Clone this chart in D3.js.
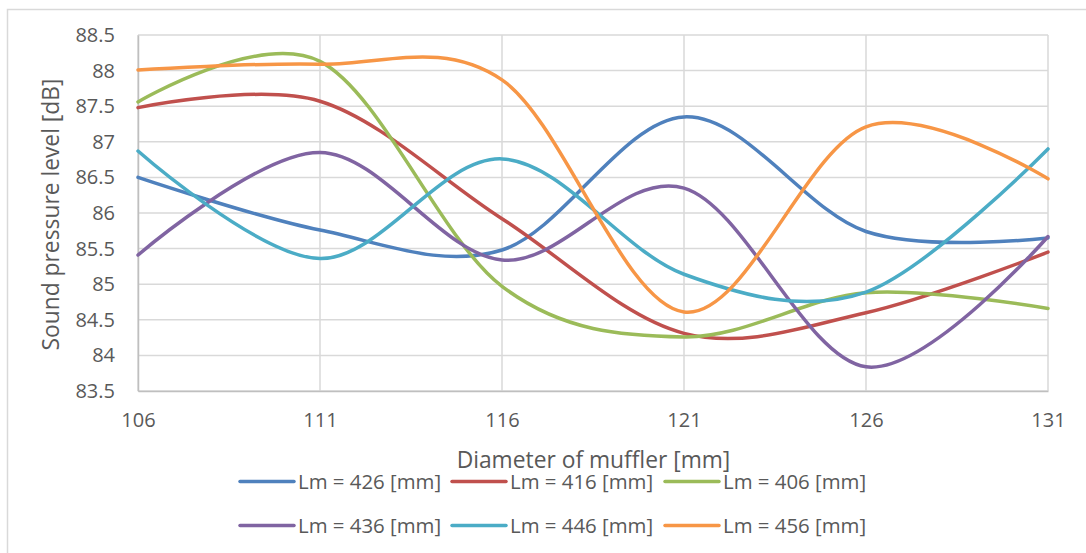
<!DOCTYPE html>
<html>
<head>
<meta charset="utf-8">
<script src="https://cdn.jsdelivr.net/npm/d3@7"></script>
<style>
  html, body { margin: 0; padding: 0; background: #fff; }
  svg { display: block; font-family: "Open Sans", "Liberation Sans", sans-serif; }
</style>
</head>
<body>
<svg id="chart" width="1086" height="553"></svg>
<script>
// Muffler diameter (mm) on the x axis
const diameters = [106, 111, 116, 121, 126, 131];

// Sound pressure level (dB) for each muffler length Lm
const lm426 = [86.50, 85.76, 85.48, 87.35, 85.74, 85.65];
const lm416 = [87.48, 87.57, 85.92, 84.31, 84.60, 85.45];
const lm406 = [87.56, 88.13, 84.97, 84.26, 84.88, 84.66];
const lm436 = [85.41, 86.85, 85.34, 86.35, 83.84, 85.67];
const lm446 = [86.87, 85.36, 86.76, 85.14, 84.89, 86.90];
const lm456 = [88.01, 88.09, 87.87, 84.61, 87.21, 86.48];

const seriesNames = ["Lm = 426 [mm]", "Lm = 416 [mm]", "Lm = 406 [mm]",
                     "Lm = 436 [mm]", "Lm = 446 [mm]", "Lm = 456 [mm]"];
const seriesValues = [lm426, lm416, lm406, lm436, lm446, lm456];
const seriesColors = ["#4F81BD", "#C0504D", "#9BBB59", "#8064A2", "#4BACC6", "#F79646"];

const yTicks = [83.5, 84, 84.5, 85, 85.5, 86, 86.5, 87, 87.5, 88, 88.5];
const xTicks = diameters;

const svg = d3.select("#chart");

// chart frame
svg.append("rect")
  .attr("x", 7.5).attr("y", 9.5)
  .attr("width", 1200).attr("height", 700)
  .attr("fill", "#fff").attr("stroke", "#d9d9d9").attr("stroke-width", 1.5);

const plot = { left: 138, right: 1048, top: 35, bottom: 391 };

const x = d3.scaleLinear().domain([106, 131]).range([plot.left, plot.right]);
const y = d3.scaleLinear().domain([83.5, 88.5]).range([plot.bottom, plot.top]);

const textColor = "#595959";
const tickFont = 20;
const titleFont = 22.8;
const legendFont = 20.4;

// horizontal gridlines
svg.append("g")
  .selectAll("line")
  .data(yTicks)
  .join("line")
  .attr("x1", plot.left).attr("x2", plot.right)
  .attr("y1", d => y(d)).attr("y2", d => y(d))
  .attr("stroke", "#d9d9d9").attr("stroke-width", 1.5);

// vertical gridlines
svg.append("g")
  .selectAll("line")
  .data(xTicks)
  .join("line")
  .attr("x1", d => x(d)).attr("x2", d => x(d))
  .attr("y1", plot.top).attr("y2", plot.bottom)
  .attr("stroke", "#d9d9d9").attr("stroke-width", 1.5);

// y axis
const yAxis = d3.axisLeft(y).tickValues(yTicks).tickFormat(d3.format("~g")).tickSize(0).tickPadding(23);
const gy = svg.append("g").attr("transform", `translate(${plot.left},0)`).call(yAxis);
gy.select(".domain").attr("stroke", "#bfbfbf").attr("stroke-width", 1.5);
gy.selectAll("text").attr("fill", textColor).attr("font-size", tickFont)
  .attr("font-family", '"Open Sans", sans-serif');

// x axis
const xAxis = d3.axisBottom(x).tickValues(xTicks).tickFormat(d3.format("d")).tickSize(0).tickPadding(22);
const gx = svg.append("g").attr("transform", `translate(0,${plot.bottom})`).call(xAxis);
gx.select(".domain").attr("stroke", "#bfbfbf").attr("stroke-width", 1.5);
gx.selectAll("text").attr("fill", textColor).attr("font-size", tickFont)
  .attr("font-family", '"Open Sans", sans-serif');

// series lines (smoothed)
const line = d3.line()
  .x((d, i) => x(diameters[i]))
  .y(d => y(d))
  .curve(d3.curveCatmullRom.alpha(0));

svg.append("g")
  .selectAll("path")
  .data(seriesValues)
  .join("path")
  .attr("d", d => line(d))
  .attr("fill", "none")
  .attr("stroke", (d, i) => seriesColors[i])
  .attr("stroke-width", 3.5)
  .attr("stroke-linecap", "round")
  .attr("stroke-linejoin", "round");

// axis titles
svg.append("text")
  .attr("x", 593.5)
  .attr("y", 468)
  .attr("text-anchor", "middle")
  .attr("fill", textColor)
  .attr("font-size", titleFont)
  .text("Diameter of muffler [mm]");

svg.append("text")
  .attr("transform", `translate(59,214.5) rotate(-90)`)
  .attr("text-anchor", "middle")
  .attr("fill", textColor)
  .attr("font-size", titleFont)
  .text("Sound pressure level [dB]");

// legend: two rows of three
const legendX = [240, 452, 665];
const legendY = [481.5, 525.5];
const legend = svg.append("g")
  .selectAll("g")
  .data(seriesNames)
  .join("g")
  .attr("transform", (d, i) => `translate(${legendX[i % 3]},${legendY[Math.floor(i / 3)]})`);

legend.append("line")
  .attr("x1", 0).attr("x2", 54)
  .attr("y1", 0).attr("y2", 0)
  .attr("stroke", (d, i) => seriesColors[i])
  .attr("stroke-width", 3.5)
  .attr("stroke-linecap", "round");

legend.append("text")
  .attr("x", 58)
  .attr("y", 7)
  .attr("fill", textColor)
  .attr("font-size", legendFont)
  .text(d => d);
</script>
</body>
</html>
